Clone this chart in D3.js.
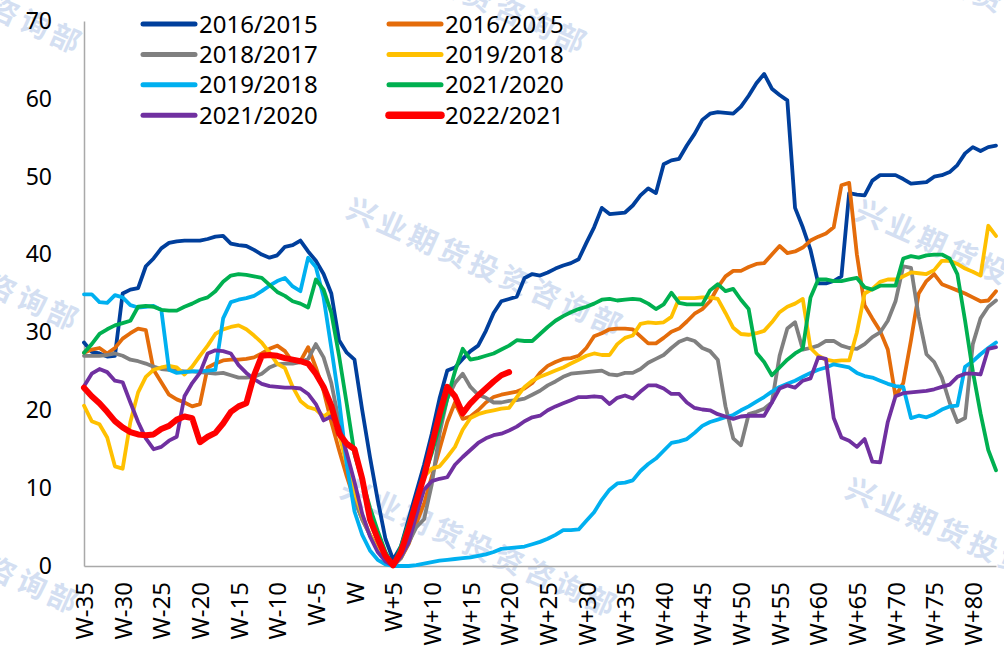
<!DOCTYPE html>
<html>

<head>
    <meta charset='utf-8'>
    <title>Weekly ratio lines</title>
    <script type='text/javascript' src='https://cdn.jsdelivr.net/npm/d3@7'></script>
    <style>
        body { margin: 0; background: #fff; }
        text { font-family: 'Noto Sans', 'Open Sans', sans-serif; }
    </style>
</head>

<body>
    <svg width='1004' height='657'></svg>
    <script type='text/javascript'>

        // categories W-35 ... W+83
        const weeks = d3.range(-35, 84).map(w => w === 0 ? 'W' : (w < 0 ? 'W' + w : 'W+' + w))
        const tickLabels = ['W-35', 'W-30', 'W-25', 'W-20', 'W-15', 'W-10', 'W-5', 'W',
            'W+5', 'W+10', 'W+15', 'W+20', 'W+25', 'W+30', 'W+35', 'W+40', 'W+45',
            'W+50', 'W+55', 'W+60', 'W+65', 'W+70', 'W+75', 'W+80']
        const yTicks = [0, 10, 20, 30, 40, 50, 60, 70]

        const names = ['2016/2015', '2016/2015', '2018/2017', '2019/2018',
            '2019/2018', '2021/2020', '2021/2020', '2022/2021']

        const blue2016 = [28.7, 27.5, 27.3, 26.9, 27.0, 35.0, 35.5, 35.7, 38.5, 39.5,
            40.8, 41.5, 41.7, 41.8, 41.8, 41.8, 42.0, 42.3, 42.4, 41.4,
            41.2, 41.1, 40.6, 40.0, 39.6, 39.9, 41.0, 41.2, 41.8, 40.4,
            39.2, 37.5, 35.0, 29.0, 27.4, 26.5, 20.0, 14.0, 8.5, 3.5,
            0.8, 2.5, 6.0, 9.5, 13.0, 17.0, 21.5, 25.1, 25.5, 26.6,
            27.6, 28.3, 30.2, 32.5, 34.0, 34.3, 34.6, 37.0, 37.5, 37.3,
            37.7, 38.2, 38.6, 38.9, 39.4, 41.5, 43.5, 46.0, 45.2, 45.3,
            45.4, 46.3, 47.6, 48.5, 47.9, 51.6, 52.1, 52.3, 54.0, 55.5,
            57.3, 58.1, 58.3, 58.2, 58.1, 59.0, 60.4, 62.0, 63.2, 61.3,
            60.5, 59.8, 46.0, 43.5, 40.6, 36.3, 36.3, 36.6, 37.2, 47.9,
            47.7, 47.6, 49.5, 50.2, 50.2, 50.2, 49.7, 49.1, 49.2, 49.3,
            50.0, 50.2, 50.6, 51.5, 53.0, 53.8, 53.3, 53.8, 54.0]

        const orange2016 = [27.4, 27.8, 28.0, 27.3, 28.0, 29.2, 29.9, 30.5, 30.3, 25.2,
            23.6, 22.0, 21.4, 21.0, 20.5, 20.8, 25.5, 26.0, 26.4, 26.5,
            26.5, 26.6, 26.8, 27.3, 27.9, 28.3, 27.6, 26.2, 26.3, 28.1,
            25.5, 22.5, 18.5, 14.9, 11.5, 8.5, 6.0, 4.0, 2.2, 0.8,
            0.0, 1.0, 2.8, 5.5, 8.0, 11.5, 15.0, 18.5, 21.0, 18.9,
            19.2, 20.0, 21.0, 21.7, 22.0, 22.2, 22.4, 22.8, 23.5, 24.8,
            25.7, 26.2, 26.6, 26.7, 27.0, 28.0, 29.5, 29.9, 30.4, 30.5,
            30.5, 30.4, 29.5, 28.6, 28.6, 29.3, 30.1, 30.5, 31.4, 32.4,
            33.0, 34.0, 35.8, 37.2, 37.9, 37.9, 38.4, 38.8, 38.9, 40.0,
            41.1, 40.2, 40.4, 40.9, 41.8, 42.3, 42.7, 43.5, 48.9, 49.2,
            40.0, 33.5, 31.8, 30.2, 27.8, 21.8, 23.5, 29.0, 35.0, 36.6,
            37.5, 36.2, 35.8, 35.4, 35.0, 34.5, 34.0, 34.1, 35.3]

        const grey2018 = [27.0, 27.0, 27.0, 27.1, 27.3, 27.0, 26.5, 26.3, 26.0, 25.6,
            25.3, 25.2, 25.1, 25.0, 25.0, 24.9, 24.8, 24.7, 24.8, 24.5,
            24.2, 24.2, 24.3, 24.7, 25.5, 25.9, 26.0, 26.0, 26.2, 26.6,
            28.5, 26.8, 23.5, 18.5, 13.0, 8.5, 6.0, 4.0, 2.2, 0.8,
            0.0, 1.0, 3.0, 5.0, 6.0, 10.5, 17.0, 21.5, 23.5, 24.7,
            23.0, 22.0, 21.6, 21.0, 21.0, 21.2, 21.3, 21.5, 22.0, 22.5,
            23.2, 23.7, 24.3, 24.7, 24.8, 24.9, 25.0, 25.1, 24.6, 24.5,
            24.8, 24.8, 25.3, 26.1, 26.6, 27.1, 28.0, 28.8, 29.2, 28.9,
            28.0, 27.6, 26.5, 20.5, 16.4, 15.5, 19.5, 19.8, 20.2, 21.0,
            27.0, 30.5, 31.3, 27.8, 28.0, 28.3, 28.9, 28.9, 28.3, 28.0,
            27.9, 28.5, 29.4, 30.0, 31.5, 34.0, 38.5, 38.3, 32.0, 27.2,
            26.2, 24.2, 21.0, 18.5, 19.0, 28.5, 31.8, 33.3, 34.1]

        const yellow2019 = [20.6, 18.6, 18.2, 16.5, 12.8, 12.5, 18.5, 22.3, 24.3, 25.2,
            25.5, 25.7, 25.5, 24.6, 25.6, 27.0, 28.3, 29.8, 30.4, 30.7,
            30.9, 30.4, 29.6, 28.7, 27.4, 26.0, 25.4, 23.0, 21.2, 20.4,
            20.1, 19.2, 19.9, 17.0, 13.0, 9.5, 6.5, 4.0, 2.0, 0.8,
            0.0, 1.5, 4.5, 8.0, 11.5, 12.5, 12.8, 14.0, 15.3, 17.5,
            19.0, 19.5, 19.8, 20.0, 20.2, 20.3, 21.7, 23.0, 23.8, 24.3,
            24.7, 25.1, 25.5, 26.0, 26.5, 27.0, 27.3, 27.1, 27.1, 28.5,
            29.3, 29.6, 31.1, 31.3, 31.2, 31.3, 32.0, 34.4, 34.4, 34.4,
            34.5, 34.5, 34.3, 32.5, 30.6, 29.8, 29.7, 29.9, 30.2, 31.3,
            32.6, 33.3, 33.7, 34.3, 28.0, 27.0, 26.5, 26.3, 26.4, 26.4,
            30.0, 35.0, 35.6, 36.5, 36.8, 36.8, 37.2, 37.7, 37.6, 37.5,
            38.0, 39.2, 39.2, 38.8, 38.2, 37.8, 37.3, 43.7, 42.4]

        const cyan2019 = [34.9, 34.9, 33.9, 33.8, 34.8, 34.5, 33.5, 33.2, 33.3, 33.4,
            32.9, 25.2, 24.8, 24.9, 25.0, 25.0, 25.1, 25.2, 31.8, 33.9,
            34.2, 34.4, 34.7, 35.3, 36.0, 36.6, 37.0, 35.9, 35.3, 39.6,
            38.4, 34.5, 28.0, 21.3, 13.0, 7.0, 4.0, 2.0, 0.8, 0.2,
            0.0, 0.0, 0.0, 0.1, 0.3, 0.5, 0.7, 0.8, 0.9, 1.0,
            1.1, 1.3, 1.5, 1.8, 2.2, 2.3, 2.4, 2.5, 2.8, 3.1,
            3.5, 4.0, 4.6, 4.6, 4.7, 5.8, 6.9, 8.5, 9.8, 10.6,
            10.7, 11.0, 12.2, 13.1, 13.8, 14.8, 15.8, 16.0, 16.3, 17.1,
            18.0, 18.5, 18.8, 19.1, 19.4, 20.0, 20.5, 21.1, 21.7, 22.4,
            23.0, 23.4, 23.8, 24.3, 24.8, 25.2, 25.5, 25.9, 25.7, 25.5,
            24.8, 24.4, 24.2, 23.8, 23.4, 23.1, 23.0, 19.0, 19.3, 19.1,
            19.5, 20.1, 20.5, 20.6, 25.6, 26.3, 27.2, 28.0, 28.7]

        const green2021 = [27.4, 28.5, 29.8, 30.4, 30.9, 31.2, 31.5, 33.3, 33.4, 33.3,
            32.9, 32.8, 32.8, 33.3, 33.7, 34.2, 34.5, 35.3, 36.5, 37.3,
            37.5, 37.4, 37.2, 37.0, 36.1, 35.2, 34.7, 34.0, 33.7, 33.2,
            36.8, 35.5, 32.5, 27.0, 20.8, 14.4, 11.0, 7.5, 4.5, 1.8,
            0.0, 2.5, 5.5, 8.5, 11.5, 14.5, 18.0, 21.5, 25.0, 27.9,
            26.5, 26.7, 27.0, 27.3, 27.8, 28.3, 29.0, 28.9, 28.9, 29.8,
            30.7, 31.5, 32.1, 32.6, 33.0, 33.3, 33.7, 34.2, 34.3, 34.1,
            34.2, 34.3, 34.2, 33.7, 33.0, 33.6, 35.1, 33.8, 33.6, 33.6,
            33.6, 35.4, 36.2, 35.3, 35.6, 34.2, 33.0, 27.4, 26.2, 24.5,
            25.5, 26.5, 27.3, 27.9, 34.5, 36.8, 36.8, 36.6, 36.6, 36.8,
            37.0, 35.8, 35.5, 36.0, 36.0, 36.0, 39.5, 39.8, 39.6, 39.9,
            40.0, 40.0, 39.5, 37.5, 31.5, 25.0, 19.6, 14.9, 12.3]

        const purple2021 = [23.1, 24.7, 25.3, 24.9, 23.8, 23.6, 21.0, 18.5, 16.4, 15.0,
            15.3, 16.1, 16.6, 21.8, 23.5, 24.8, 27.3, 27.7, 27.6, 27.3,
            25.8, 24.8, 24.0, 23.4, 23.1, 23.0, 22.9, 22.9, 22.8, 22.1,
            20.8, 18.7, 19.2, 17.9, 14.5, 10.8, 6.7, 3.8, 1.8, 0.6,
            0.0, 1.2, 3.0, 6.5, 9.8, 10.9, 11.2, 11.4, 13.0, 14.0,
            14.9, 15.8, 16.4, 16.8, 17.0, 17.4, 17.9, 18.6, 19.1, 19.3,
            20.0, 20.5, 20.9, 21.3, 21.7, 21.7, 21.8, 21.7, 20.8, 21.6,
            21.9, 21.5, 22.4, 23.2, 23.2, 22.8, 22.1, 22.1, 21.0, 20.3,
            20.1, 20.0, 19.5, 19.2, 18.9, 19.2, 19.3, 19.3, 19.3, 21.0,
            22.8, 23.2, 22.9, 23.8, 24.1, 26.8, 26.6, 19.0, 16.5, 16.1,
            15.3, 16.3, 13.4, 13.3, 18.5, 21.8, 22.2, 22.3, 22.4, 22.5,
            22.7, 23.0, 23.3, 24.3, 24.7, 24.7, 24.6, 27.9, 28.1]

        const red2022 = [22.9, 21.8, 20.9, 19.8, 18.6, 17.8, 17.2, 16.9, 16.8, 16.9,
            17.6, 18.0, 18.8, 19.2, 19.0, 15.9, 16.6, 17.1, 18.3, 19.8,
            20.5, 20.9, 24.5, 27.0, 27.1, 27.0, 26.7, 26.5, 26.3, 26.0,
            24.7, 23.0, 20.6, 17.0, 15.7, 15.0, 11.2, 6.0, 3.5, 1.3,
            0.1, 1.8, 4.8, 8.3, 11.5, 15.5, 19.5, 23.0, 21.8, 19.6,
            20.9, 21.9, 22.8, 23.7, 24.5, 24.9]

        const allSeries = [blue2016, orange2016, grey2018, yellow2019,
            cyan2019, green2021, purple2021, red2022]
        const colors = ['#003F9C', '#E46C0A', '#808080', '#FFC000',
            '#00B0F0', '#00B050', '#7030A0', '#FF0000']
        const widths = [3.8, 3.8, 3.8, 3.8, 3.8, 3.8, 3.8, 6]

        const svg = d3.select('svg')
        svg.append('rect').attr('width', 1004).attr('height', 657).attr('fill', '#fff')

        // watermark
        const mark = '兴业期货投资咨询部'
        const markSpots = [[-55, -15], [450, -15], [960, -15],
            [-58, 262], [486, 268], [995, 270],
            [-58, 545], [480, 548], [985, 548]]
        svg.append('g').selectAll('text')
            .data(markSpots)
            .enter()
            .append('text')
            .attr('transform', d => `translate(${d[0]},${d[1]}) rotate(24)`)
            .attr('text-anchor', 'middle')
            .attr('dy', '0.35em')
            .style('font-family', "'Noto Sans CJK SC', sans-serif")
            .style('font-weight', 'bold')
            .style('font-size', '29px')
            .style('letter-spacing', '4.5px')
            .attr('fill', '#D4DFF2')
            .text(mark)

        const x = d3.scalePoint().domain(weeks).range([84, 996])
        const y = d3.scaleLinear().domain([0, 70]).range([566, 21])

        const yAxis = svg.append('g')
            .attr('transform', 'translate(84,0)')
            .call(d3.axisLeft(y).tickValues(yTicks).tickSize(0).tickSizeOuter(0).tickPadding(32))
        yAxis.select('.domain').attr('stroke', '#A9A9A9').attr('stroke-width', 1.5)
        yAxis.selectAll('text').style('font-size', '23px').attr('fill', '#000')

        const xAxis = svg.append('g')
            .attr('transform', 'translate(0,566)')
            .call(d3.axisBottom(x).tickValues(tickLabels).tickSize(0).tickSizeOuter(0))
        xAxis.select('.domain').attr('stroke', '#A9A9A9').attr('stroke-width', 1.5)
        xAxis.selectAll('text')
            .attr('transform', 'rotate(-90)')
            .attr('x', -16)
            .attr('y', 0)
            .attr('dy', '0.36em')
            .style('text-anchor', 'end')
            .style('font-size', '24px')
            .attr('fill', '#000')

        const line = d3.line()
            .x((d, i) => x(weeks[i]))
            .y(d => y(d))

        svg.append('g').selectAll('path')
            .data(allSeries)
            .enter()
            .append('path')
            .attr('d', line)
            .attr('fill', 'none')
            .attr('stroke', (d, i) => colors[i])
            .attr('stroke-width', (d, i) => widths[i])
            .attr('stroke-linejoin', 'round')
            .attr('stroke-linecap', 'round')

        // legend, two columns
        const legend = svg.append('g').selectAll('g')
            .data(names)
            .enter()
            .append('g')
            .attr('transform', (d, i) => `translate(${i % 2 === 0 ? 143 : 389},${24 + Math.floor(i / 2) * 30.4})`)
        legend.append('line')
            .attr('x1', 0).attr('x2', 52)
            .attr('stroke', (d, i) => colors[i])
            .attr('stroke-width', (d, i) => i === 7 ? 7.5 : 5)
            .attr('stroke-linecap', 'round')
        legend.append('text')
            .attr('x', 56)
            .attr('dy', '0.36em')
            .style('font-size', '24px')
            .attr('fill', '#000')
            .text(d => d)
    </script>
</body>

</html>
